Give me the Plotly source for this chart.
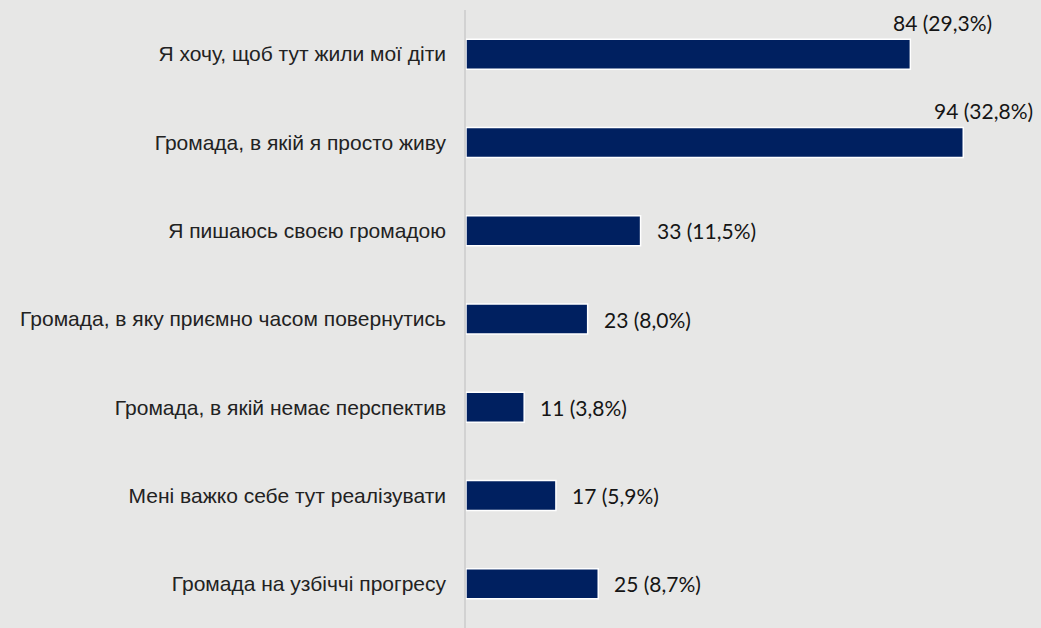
import plotly.graph_objects as go

categories = [
    "Я хочу, щоб тут жили мої діти",
    "Громада, в якій я просто живу",
    "Я пишаюсь своєю громадою",
    "Громада, в яку приємно часом повернутись",
    "Громада, в якій немає перспектив",
    "Мені важко себе тут реалізувати",
    "Громада на узбіччі прогресу",
]
counts = [84, 94, 33, 23, 11, 17, 25]
percents = ["29,3%", "32,8%", "11,5%", "8,0%", "3,8%", "5,9%", "8,7%"]
labels = [f"{c} ({p})" for c, p in zip(counts, percents)]

fig = go.Figure(go.Bar(
    x=counts, y=categories, orientation="h",
    marker=dict(color="#002060", line=dict(color="white", width=1.5)),
    width=0.34, hoverinfo="skip",
))

vfont = dict(family="Lato, Open Sans, sans-serif", size=21, color="#151515")
for c, cat, lab in zip(counts, categories, labels):
    if c > 80:
        shift = -31 if c > 90 else -19
        fig.add_annotation(x=c, y=cat, text=lab, showarrow=False,
                           xanchor="left", xshift=shift, yshift=32, font=vfont)
    else:
        fig.add_annotation(x=c, y=cat, text=lab, showarrow=False,
                           xanchor="left", xshift=14, font=vfont)

fig.update_layout(
    width=1041, height=628,
    margin=dict(l=466, r=46, t=10, b=0),
    paper_bgcolor="#e7e7e6", plot_bgcolor="#e7e7e6",
    showlegend=False,
    xaxis=dict(range=[0, 100], showgrid=False, zeroline=False, showticklabels=False,
               showline=False, fixedrange=True),
    yaxis=dict(autorange="reversed", showgrid=False, zeroline=False,
               showline=True, linecolor="#d2d2d2", linewidth=1.5,
               ticks="", ticklabelstandoff=14, fixedrange=True,
               tickfont=dict(family="Liberation Sans, Arial, sans-serif", size=21, color="#222222")),
)

fig.write_html("out.html", config={"displayModeBar": False},
               post_script="document.body.style.margin='0';")
